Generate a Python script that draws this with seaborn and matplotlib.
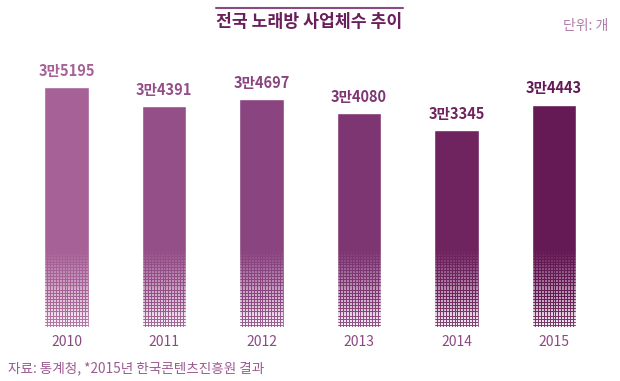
import numpy as np
import pandas as pd
import matplotlib
matplotlib.use('Agg')
import matplotlib.pyplot as plt
import seaborn as sns

# --- data ---
years = ['2010', '2011', '2012', '2013', '2014', '2015']
counts = [35195, 34391, 34697, 34080, 33345, 34443]
value_labels = ['3만5195', '3만4391', '3만4697', '3만4080', '3만3345', '3만4443']
bar_colors = ['#a66196', '#954f88', '#8a4480', '#7e3673', '#6f245f', '#651a55']

df = pd.DataFrame({'year': years, 'count': counts})

sns.set_theme(style='white')
plt.rcParams['font.family'] = ['Noto Sans CJK KR', 'DejaVu Sans']

fig = plt.figure(figsize=(6.2, 3.81), dpi=100)
ax = fig.add_axes([0.0286, 0.1417, 0.9435, 0.70])

sns.barplot(data=df, x='year', y='count', hue='year', palette=bar_colors,
            legend=False, width=0.46, ax=ax, saturation=1)

ymin = 24870
ax.set_ylim(ymin, 36360)
ax.set_xlim(-0.5, 5.5)

# halftone fade on the lower part of each bar
fade_top = ymin + 3300
H, W = 80, 46
img = np.ones((H, W, 4))
yy, xx = np.mgrid[0:H, 0:W]
cell = ((yy % 3) != 0) & ((xx % 3) != 0)
frac = yy / (H - 1)  # 0 at top, 1 at bottom
alpha = np.clip(frac * 0.95, 0, 1) * cell + np.clip(frac - 0.6, 0, 1) * 0.4 * (~cell)
img[..., 3] = alpha
for p in ax.patches:
    x0 = p.get_x()
    w = p.get_width()
    im = ax.imshow(img, extent=[x0, x0 + w, ymin, fade_top], aspect='auto',
                   interpolation='nearest', zorder=p.get_zorder() + 0.1)
    im.set_clip_path(p)

for i, (v, lab) in enumerate(zip(counts, value_labels)):
    ax.annotate(lab, (i, v), xytext=(0, 6), textcoords='offset points',
                ha='center', va='bottom', fontsize=10.5, fontweight='bold',
                color=bar_colors[i])

ax.set_xlabel('')
ax.set_ylabel('')
ax.set_yticks([])
ax.tick_params(axis='x', length=0, pad=6, labelsize=10, labelcolor='#8b4a80')
for s in ax.spines.values():
    s.set_visible(False)

# title and notes
fig.text(0.499, 0.942, '전국 노래방 사업체수 추이', ha='center', va='center',
         fontsize=12.4, fontweight='bold', color='#6b1e5c')
fig.add_artist(plt.Line2D([216 / 620, 403 / 620], [1 - 8 / 381, 1 - 8 / 381],
                          color='#8b4a80', lw=1.5))
fig.text(0.981, 0.932, '단위: 개', ha='right', va='center', fontsize=10,
         color='#b07aa8')
fig.text(0.013, 0.034, '자료: 통계청, *2015년 한국콘텐츠진흥원 결과', ha='left',
         va='center', fontsize=9.8, color='#9b5a90')

fig.savefig('out.png', dpi=100)
